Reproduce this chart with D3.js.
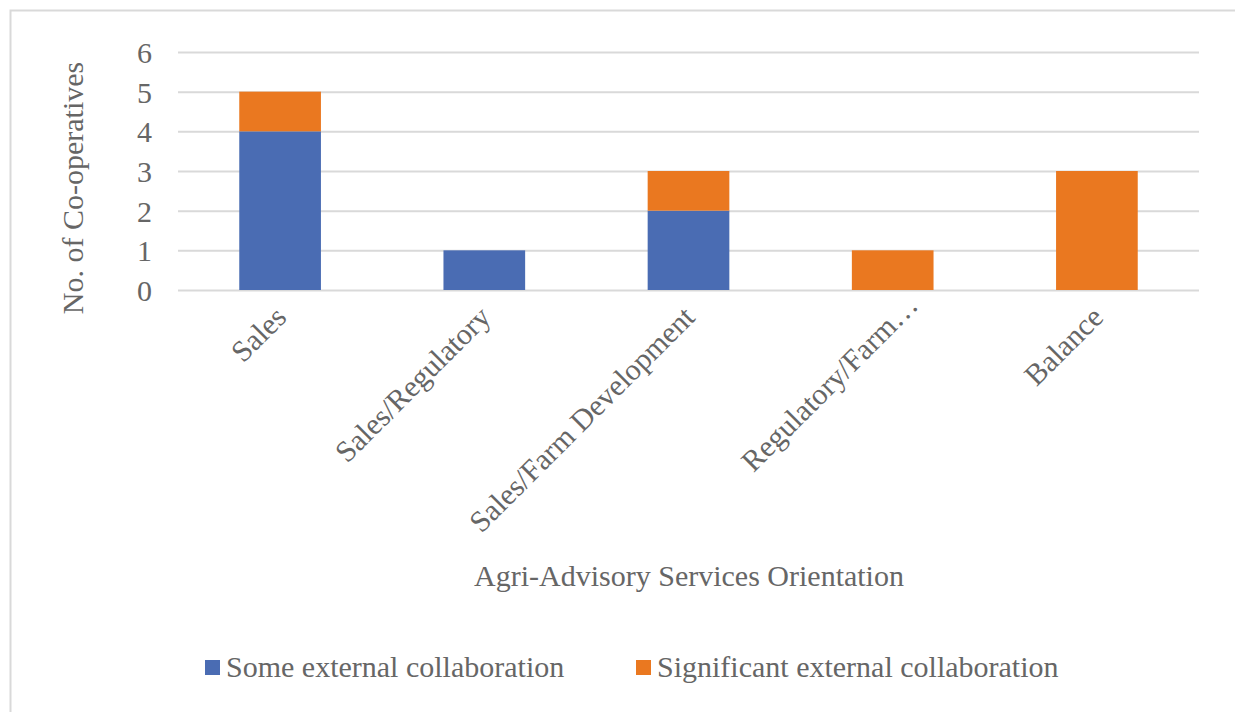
<!DOCTYPE html>
<html>
<head>
<meta charset="utf-8">
<script src="https://cdn.jsdelivr.net/npm/d3@7"></script>
<style>
  html, body { margin: 0; padding: 0; background: #fff; }
  svg { display: block; }
  text { font-family: "Liberation Serif", "Times New Roman", serif; fill: #666666; }
</style>
</head>
<body>
<svg id="chart" width="1235" height="712"></svg>
<script>
const categories = ["Sales", "Sales/Regulatory", "Sales/Farm Development", "Regulatory/Farm\u2026", "Balance"];
const seriesNames = ["Some external collaboration", "Significant external collaboration"];
const someExternal = [4, 1, 2, 0, 0];
const significantExternal = [1, 0, 1, 1, 3];
const yTicks = [0, 1, 2, 3, 4, 5, 6];
const colors = ["#4A6CB3", "#EA7820"];

const svg = d3.select("#chart");
const W = 1235, H = 712;
const FS = 30;

// outer chart border
svg.append("rect").attr("x", 10.5).attr("y", 10.5).attr("width", W).attr("height", H)
  .attr("fill", "#fff").attr("stroke", "#d9d9d9").attr("stroke-width", 2);

const plot = { left: 178, right: 1199, top: 52, bottom: 290 };

const x = d3.scaleBand().domain(categories)
  .range([plot.left, plot.right]).paddingInner(0.6).paddingOuter(0.3);
const y = d3.scaleLinear().domain([0, 6]).range([plot.bottom, plot.top]);

// gridlines
const grid = svg.append("g").attr("transform", `translate(${plot.left},0)`)
  .call(d3.axisLeft(y).tickValues(yTicks).tickSize(-(plot.right - plot.left)).tickFormat(""));
grid.select(".domain").remove();
grid.selectAll(".tick line").attr("stroke", "#d9d9d9").attr("stroke-width", 2);

// y tick labels
const yAxis = svg.append("g").attr("transform", `translate(152,0)`)
  .call(d3.axisLeft(y).tickValues(yTicks).tickSize(0).tickPadding(0).tickFormat(d3.format("d")));
yAxis.select(".domain").remove();
yAxis.selectAll("text").attr("font-size", FS).attr("font-family", "Liberation Serif")
  .attr("fill", "#666666").attr("dy", "0.35em");

// stacked data
const rows = categories.map((c, i) => ({ cat: c, s0: someExternal[i], s1: significantExternal[i] }));
const stack = d3.stack().keys(["s0", "s1"])(rows);

svg.append("g").selectAll("g").data(stack).join("g")
  .attr("fill", (d, i) => colors[i])
  .selectAll("rect").data(d => d.filter(p => p[1] - p[0] > 0)).join("rect")
  .attr("x", d => x(d.data.cat))
  .attr("width", x.bandwidth())
  .attr("y", d => y(d[1]))
  .attr("height", d => y(d[0]) - y(d[1]));

// x tick labels rotated
const xAxis = svg.append("g").attr("transform", `translate(0,${plot.bottom})`)
  .call(d3.axisBottom(x).tickSize(0).tickPadding(0));
xAxis.select(".domain").remove();
xAxis.selectAll("text")
  .attr("font-size", FS).attr("font-family", "Liberation Serif").attr("fill", "#666666")
  .attr("text-anchor", "end")
  .attr("transform", d => d === categories[3] ? "translate(27,17) rotate(-45)" : "translate(8,29) rotate(-45)")
  .attr("y", 0).attr("dy", 0);

// axis titles
svg.append("text").attr("transform", "translate(83,188) rotate(-90)")
  .attr("text-anchor", "middle").attr("font-size", FS).text("No. of Co-operatives");
svg.append("text").attr("x", 689).attr("y", 586)
  .attr("text-anchor", "middle").attr("font-size", FS).text("Agri-Advisory Services Orientation");

// legend
const legendX = [205, 636];
const leg = svg.append("g");
seriesNames.forEach((n, i) => {
  leg.append("rect").attr("x", legendX[i]).attr("y", 660).attr("width", 15).attr("height", 15).attr("fill", colors[i]);
  leg.append("text").attr("x", legendX[i] + 21).attr("y", 677).attr("font-size", FS).text(n);
});
</script>
</body>
</html>
